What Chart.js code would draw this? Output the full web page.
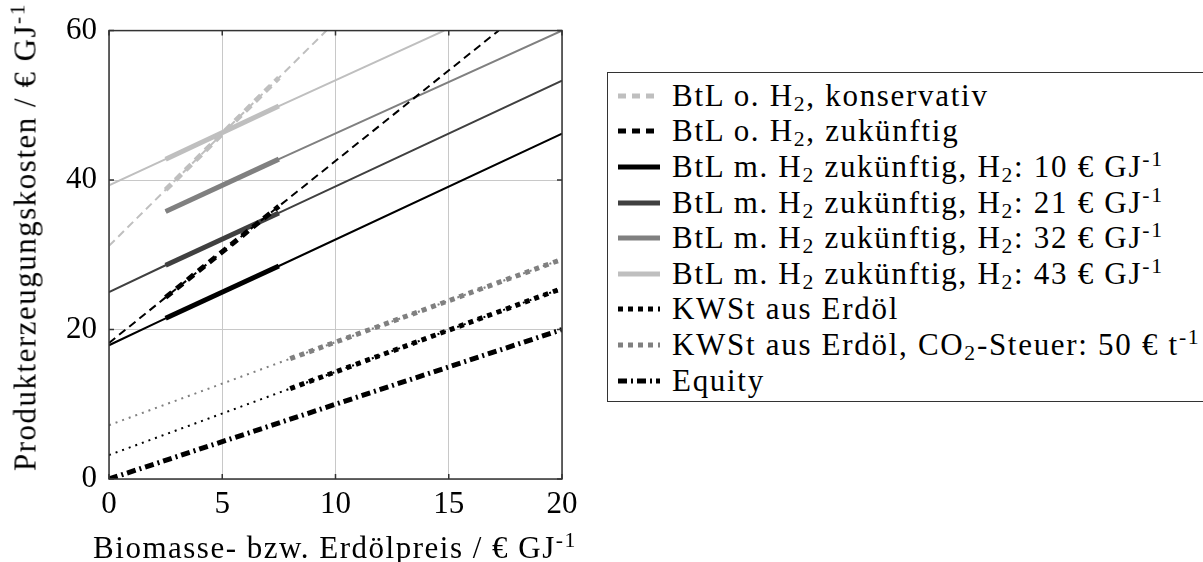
<!DOCTYPE html>
<html lang="de">
<head>
<meta charset="utf-8">
<title>Produkterzeugungskosten</title>
<script src="https://cdn.jsdelivr.net/npm/chart.js@4.4.1/dist/chart.umd.min.js"></script>
<style>
  body { margin: 0; background: #fff; }
  .page { position: relative; width: 1203px; height: 562px; overflow: hidden; font-family: 'Liberation Serif', serif; color: #000; }
  #chart { position: absolute; left: 0; top: 0; }
  .axis-title { position: absolute; white-space: nowrap; font-size: 31px; line-height: 1; letter-spacing: 1.5px; }
  .y-title { left: 25px; top: 237px; transform: translate(-50%, -50%) rotate(-90deg); }
  .x-title { left: 335px; top: 547px; transform: translate(-50%, -50%); }
  sub, sup { font-size: 70%; line-height: 0; }
  sub { vertical-align: -0.22em; }
  sup { vertical-align: 0.5em; }
  .legend { position: absolute; left: 607px; top: 72px; width: 640px; padding: 5px 0 3px; border: 1.5px solid #333; }
  .legend .row { display: flex; align-items: center; height: 35.6px; font-size: 31px; letter-spacing: 1.7px; white-space: nowrap; }
  .legend svg { margin: 0 12px 0 10px; flex: none; }
</style>
</head>
<body>
<div class="page">
  <canvas id="chart" width="600" height="562"></canvas>
  <div class="axis-title y-title">Produkterzeugungskosten / € GJ<sup>-1</sup></div>
  <div class="axis-title x-title">Biomasse- bzw. Erdölpreis / € GJ<sup>-1</sup></div>
  <div class="legend" id="legend"></div>
</div>
<script>
const xTicks = [0, 5, 10, 15, 20];
const yTicks = [0, 20, 40, 60];

const konsX = [0, 2.5, 7.5, 9.6];
const konsY = [31.2, 38.7, 53.7, 60];
const zukX = [0, 2.5, 7.5, 17.2];
const zukY = [18.2, 24.3, 36.5, 60];
const h10X = [0, 2.5, 7.5, 20];
const h10Y = [17.9, 21.5, 28.5, 46.2];
const h21X = [0, 2.5, 7.5, 20];
const h21Y = [25, 28.6, 35.6, 53.3];
const h32X = [2.5, 7.5, 20];
const h32Y = [35.8, 42.8, 60];
const h43X = [0, 2.5, 7.5, 14.8];
const h43Y = [39.3, 42.8, 49.9, 60];
const kwstX = [0, 8, 20];
const kwstY = [3.2, 12.1, 25.5];
const co2X = [0, 8, 20];
const co2Y = [7.2, 16.1, 29.4];
const eqX = [0, 20];
const eqY = [0, 20];

const legendLabels = [
  'BtL o. H<sub>2</sub>, konservativ',
  'BtL o. H<sub>2</sub>, zukünftig',
  'BtL m. H<sub>2</sub> zukünftig, H<sub>2</sub>: 10 € GJ<sup>-1</sup>',
  'BtL m. H<sub>2</sub> zukünftig, H<sub>2</sub>: 21 € GJ<sup>-1</sup>',
  'BtL m. H<sub>2</sub> zukünftig, H<sub>2</sub>: 32 € GJ<sup>-1</sup>',
  'BtL m. H<sub>2</sub> zukünftig, H<sub>2</sub>: 43 € GJ<sup>-1</sup>',
  'KWSt aus Erdöl',
  'KWSt aus Erdöl, CO<sub>2</sub>-Steuer: 50 € t<sup>-1</sup>',
  'Equity'
];

const series = [
  { x: konsX, y: konsY, color: '#bfbfbf', dash: [8, 5], boldDash: [8, 6], bold: [2.5, 7.5] },
  { x: zukX, y: zukY, color: '#000000', dash: [8, 5], boldDash: [8, 6], bold: [2.5, 7.5] },
  { x: h10X, y: h10Y, color: '#000000', dash: [], boldDash: [], bold: [2.5, 7.5] },
  { x: h21X, y: h21Y, color: '#404040', dash: [], boldDash: [], bold: [2.5, 7.5] },
  { x: h32X, y: h32Y, color: '#808080', dash: [], boldDash: [], bold: [2.5, 7.5] },
  { x: h43X, y: h43Y, color: '#bfbfbf', dash: [], boldDash: [], bold: [2.5, 7.5] },
  { x: kwstX, y: kwstY, color: '#000000', dash: [2, 5], boldDash: [5, 5], bold: [8, 20] },
  { x: co2X, y: co2Y, color: '#808080', dash: [2, 5], boldDash: [5, 5], bold: [8, 20] },
  { x: eqX, y: eqY, color: '#000000', dash: null, boldDash: [9, 4, 2, 4], bold: [0, 20] }
];

const datasets = [];
series.forEach(s => {
  const pts = s.x.map((x, i) => ({ x: x, y: s.y[i] }));
  const base = { borderColor: s.color, pointRadius: 0, tension: 0, borderCapStyle: 'butt', fill: false, clip: 0 };
  if (s.dash) {
    datasets.push(Object.assign({}, base, { data: pts, borderWidth: 2, borderDash: s.dash }));
  }
  datasets.push(Object.assign({}, base, {
    data: pts.filter(p => p.x >= s.bold[0] && p.x <= s.bold[1]),
    borderWidth: 5,
    borderDash: s.boldDash
  }));
});

// Legende als HTML (wegen Tief-/Hochstellung)
const legend = document.getElementById('legend');
series.forEach((s, i) => {
  const dash = s.boldDash.length ? s.boldDash.join(' ') : 'none';
  legend.insertAdjacentHTML('beforeend',
    '<div class="row"><svg width="42" height="10"><line x1="0" y1="5" x2="42" y2="5" stroke="' + s.color +
    '" stroke-width="5" stroke-dasharray="' + dash + '"/></svg><span>' + legendLabels[i] + '</span></div>');
});

const frame = {
  id: 'frame',
  afterDraw(chart) {
    const { ctx, chartArea: a, scales } = chart;
    ctx.save();
    ctx.strokeStyle = '#333';
    ctx.lineWidth = 1.5;
    ctx.strokeRect(a.left, a.top, a.right - a.left, a.bottom - a.top);
    ctx.beginPath();
    xTicks.forEach(v => {
      const px = scales.x.getPixelForValue(v);
      ctx.moveTo(px, a.top); ctx.lineTo(px, a.top + 5);
      ctx.moveTo(px, a.bottom); ctx.lineTo(px, a.bottom - 5);
    });
    yTicks.forEach(v => {
      const py = scales.y.getPixelForValue(v);
      ctx.moveTo(a.left, py); ctx.lineTo(a.left + 5, py);
      ctx.moveTo(a.right, py); ctx.lineTo(a.right - 5, py);
    });
    ctx.stroke();
    ctx.restore();
  }
};

const tickFont = { family: 'Liberation Serif', size: 31 };

new Chart(document.getElementById('chart'), {
  type: 'line',
  data: { datasets: datasets },
  options: {
    responsive: false,
    animation: false,
    devicePixelRatio: 1,
    layout: { padding: { top: 27, right: 38, left: 0, bottom: 0 } },
    plugins: { legend: { display: false }, tooltip: { enabled: false } },
    scales: {
      x: {
        type: 'linear', min: 0, max: 20,
        afterBuildTicks: s => { s.ticks = xTicks.map(v => ({ value: v })); },
        afterFit: s => { s.height = 83; },
        grid: { color: '#c8c8c8', lineWidth: 1, drawTicks: false },
        border: { display: false },
        ticks: { font: tickFont, color: '#000', padding: 7, maxRotation: 0 }
      },
      y: {
        type: 'linear', min: 0, max: 60,
        afterBuildTicks: s => { s.ticks = yTicks.map(v => ({ value: v })); },
        afterFit: s => { s.width = 109; },
        grid: { color: '#c8c8c8', lineWidth: 1, drawTicks: false },
        border: { display: false },
        ticks: { font: tickFont, color: '#000', padding: 12 }
      }
    }
  },
  plugins: [frame]
});
</script>
</body>
</html>
